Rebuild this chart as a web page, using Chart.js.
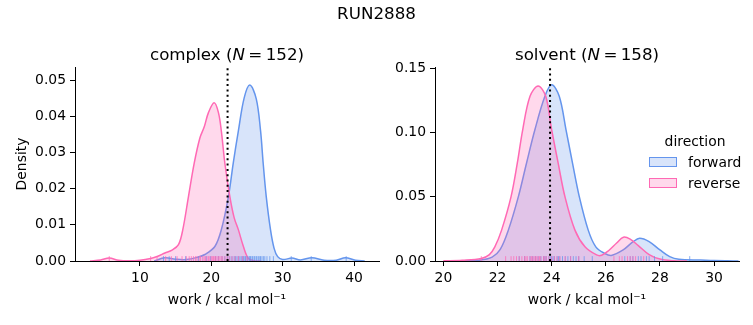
<!doctype html>
<html lang="en">
<head>
  <meta charset="utf-8">
  <title>RUN2888</title>
  <style>
    * {
      margin: 0;
      padding: 0;
      font-family: "DejaVu Sans", sans-serif;
    }

    body {
      width: 753px;
      height: 325px;
      background: #fff;
      position: relative;
      overflow: hidden;
    }

    canvas {
      position: absolute;
      left: 0;
      top: 0;
    }

    .txt {
      position: absolute;
      color: #000;
      white-space: nowrap;
      line-height: 20px;
      height: 20px;
    }

    .center { text-align: center; }
    .sup { left: 0; width: 753px; top: 3px; font-size: 16.7px; }
    .sub { width: 300px; top: 44px; font-size: 16.7px; }
    .leg { font-size: 13.9px; }

    .patch {
      position: absolute;
      width: 26px;
      height: 8px;
      border: 1px solid;
    }
  </style>
</head>
<body>
<canvas id="complexChart" width="753" height="325"></canvas>
<canvas id="solventChart" width="753" height="325"></canvas>

<div class="txt center sup">RUN2888</div>
<div class="txt center sub" style="left:77px">complex (<i>N</i>&#8201;=&#8201;152)</div>
<div class="txt center sub" style="left:437px">solvent (<i>N</i>&#8201;=&#8201;158)</div>

<div class="txt center leg" style="left:645px; width:100px; top:131px">direction</div>
<div class="patch" style="left:649px; top:157px; border-color:#6495ED; background:rgba(100,149,237,0.25)"></div>
<div class="txt leg" style="left:688px; top:152px">forward</div>
<div class="patch" style="left:649px; top:178px; border-color:#FF69B4; background:rgba(255,105,180,0.25)"></div>
<div class="txt leg" style="left:688px; top:173px">reverse</div>

<script src="https://cdn.jsdelivr.net/npm/chart.js"></script>
<script>
  // kde curves: [work, density]
  const complexForward = [[12, 0], [13.5, 0.0009], [15, 0.0005], [16.5, 0.0004], [18, 0.001], [19.1, 0.0018],
    [20.5, 0.004], [21.4, 0.0086], [22.4, 0.0178], [23.07, 0.027], [23.8, 0.036], [24.6, 0.045], [25.4, 0.0486],
    [26.3, 0.0448], [26.9, 0.036], [27.27, 0.027], [27.7, 0.0178], [28.3, 0.0086], [28.8, 0.0035],
    [29.3, 0.0012], [30.0, 0.0004], [31.3, 0.0008], [32.5, 0.0003], [34.1, 0.0009], [35.8, 0.0002],
    [37.5, 0.0002], [38.8, 0.0009], [40.2, 0.0002], [41.5, 0]];
  const complexReverse = [[3, 0], [4.5, 0.0003], [5.7, 0.0008], [7, 0.0002], [8.5, 0.00005], [10, 0.0002],
    [11.5, 0.0007], [12.5, 0.0013], [13.5, 0.0022], [14.5, 0.003], [15.4, 0.0045], [16.0, 0.0086], [16.8, 0.0178],
    [17.6, 0.027], [18.4, 0.034], [19.0, 0.037], [19.6, 0.041], [20.4, 0.0437], [21.0, 0.041], [21.4, 0.036],
    [21.9, 0.027], [22.6, 0.0178], [23.2, 0.012], [23.8, 0.0086], [24.5, 0.004], [25.2, 0.0007], [26, 0.0001], [27, 0]];
  const solventForward = [[20.5, 0], [21.3, 0.0005], [21.8, 0.003], [22.1, 0.009], [22.4, 0.024], [22.77, 0.05],
    [23.07, 0.076], [23.38, 0.102], [23.75, 0.128], [24.0, 0.137], [24.28, 0.128], [24.53, 0.102], [24.77, 0.076],
    [25.02, 0.05], [25.35, 0.024], [25.63, 0.011], [25.95, 0.006], [26.2, 0.0043], [26.64, 0.0086], [27.0, 0.0148],
    [27.25, 0.0176], [27.6, 0.015], [28.0, 0.0086], [28.36, 0.0034], [28.7, 0.0013], [29.5, 0.0007], [30, 0.0003],
    [30.5, 0.0001], [30.9, 0]];
  const solventReverse = [[20.0, 0.0001], [20.7, 0.0006], [21.4, 0.002], [21.7, 0.005], [21.9, 0.011], [22.15, 0.024],
    [22.5, 0.05], [22.73, 0.076], [22.93, 0.102], [23.2, 0.128], [23.5, 0.136], [23.78, 0.128], [24.0, 0.102],
    [24.24, 0.076], [24.49, 0.05], [24.86, 0.024], [25.23, 0.011], [25.66, 0.0047], [25.85, 0.0045], [26.1, 0.008],
    [26.4, 0.014], [26.65, 0.0185], [26.9, 0.017], [27.2, 0.012], [27.6, 0.005], [28, 0.0015], [28.5, 0.0002], [29, 0]];

  // rug (individual work values)
  const complexRugForward = [13.3, 14.1, 15.0, 16.4, 18.2, 19.3, 19.9, 20.6, 21.0, 21.5, 21.9, 22.3, 22.6, 22.9,
    23.2, 23.4, 23.6, 23.8, 24.0, 24.2, 24.4, 24.5, 24.7, 24.8, 25.0, 25.1, 25.3, 25.4, 25.5, 25.7, 25.8, 26.0, 26.1,
    26.3, 26.4, 26.6, 26.8, 26.9, 27.1, 27.3, 27.5, 27.8, 28.2, 28.7, 31.2, 34.0, 38.9];
  const complexRugReverse = [5.7, 11.5, 12.4, 13.6, 14.4, 15.2, 15.9, 16.5, 16.9, 17.2, 17.5, 17.8, 18.0, 18.3, 18.5,
    18.8, 19.0, 19.2, 19.4, 19.6, 19.8, 20.0, 20.2, 20.3, 20.5, 20.6, 20.8, 21.0, 21.2, 21.4, 21.6, 21.9, 22.2, 22.5,
    22.9, 23.3, 23.8, 24.4, 25.0];
  const solventRugForward = [22.8, 23.0, 23.2, 23.3, 23.4, 23.5, 23.6, 23.7, 23.75, 23.8, 23.9, 23.95, 24.0, 24.05,
    24.1, 24.2, 24.25, 24.3, 24.4, 24.5, 24.6, 24.7, 24.8, 24.9, 25.0, 25.2, 25.5, 26.7, 26.9, 27.0, 27.2, 27.3, 27.5,
    27.6, 27.8, 28.1, 29.1];
  const solventRugReverse = [21.4, 22.3, 22.5, 22.6, 22.7, 22.8, 22.9, 23.0, 23.05, 23.1, 23.2, 23.25, 23.3, 23.35,
    23.4, 23.45, 23.5, 23.55, 23.6, 23.7, 23.75, 23.8, 23.9, 24.0, 24.1, 24.2, 24.3, 24.5, 24.7, 25.0, 26.3, 26.5,
    26.6, 26.8, 26.9, 27.0, 27.1, 27.4];

  // dotted reference line
  const complexMarker = 22.28;
  const solventMarker = 23.94;

  // tick labels
  const complexTicksX = [10, 20, 30, 40];
  const complexTicksY = [0, 0.01, 0.02, 0.03, 0.04, 0.05];
  const solventTicksX = [20, 22, 24, 26, 28, 30];
  const solventTicksY = [0, 0.05, 0.10, 0.15];

  Chart.defaults.font.family = '"DejaVu Sans", sans-serif';
  Chart.defaults.font.size = 13.9;
  Chart.defaults.color = '#000';

  const BLUE = '#6495ED';
  const PINK = '#FF69B4';

  function buildChart(id, o) {
    const toXY = arr => arr.map(p => ({x: p[0], y: p[1]}));

    // rug ticks + dotted vertical line, drawn on top of the kde fills
    const rugLine = {
      id: 'rugLine',
      afterDatasetsDraw(chart) {
        const {ctx, chartArea: a, scales} = chart;
        const h = (a.bottom - a.top) * 0.025;
        ctx.save();
        ctx.beginPath();
        ctx.rect(a.left, a.top, a.right - a.left, a.bottom - a.top);
        ctx.clip();
        ctx.lineWidth = 1;
        [[o.rugFwd, 'rgba(100,149,237,0.75)'], [o.rugRev, 'rgba(255,105,180,0.75)']].forEach(([vals, col]) => {
          ctx.strokeStyle = col;
          vals.forEach(v => {
            const px = scales.x.getPixelForValue(v);
            ctx.beginPath();
            ctx.moveTo(px, a.bottom);
            ctx.lineTo(px, a.bottom - h);
            ctx.stroke();
          });
        });
        const mx = scales.x.getPixelForValue(o.marker);
        ctx.strokeStyle = '#000';
        ctx.lineWidth = 2;
        ctx.setLineDash([2, 3.3]);
        ctx.beginPath();
        ctx.moveTo(mx, a.bottom);
        ctx.lineTo(mx, a.top);
        ctx.stroke();
        ctx.restore();
      }
    };

    const series = (label, pts, col, fillCol) => ({
      label,
      data: toXY(pts),
      borderColor: col,
      backgroundColor: fillCol,
      borderWidth: 1.5,
      pointRadius: 0,
      fill: 'origin',
      tension: 0.35
    });

    return new Chart(document.getElementById(id), {
      type: 'line',
      data: {
        datasets: [
          series('reverse', o.rev, PINK, 'rgba(255,105,180,0.25)'),
          series('forward', o.fwd, BLUE, 'rgba(100,149,237,0.25)')
        ]
      },
      options: {
        responsive: false,
        animation: false,
        events: [],
        layout: {padding: {left: o.padLeft, right: o.padRight, top: 67, bottom: 0}},
        plugins: {legend: {display: false}, tooltip: {enabled: false}},
        scales: {
          x: {
            type: 'linear',
            min: o.xMin,
            max: o.xMax,
            afterBuildTicks: s => { s.ticks = o.xTicks.map(v => ({value: v})); },
            afterFit: s => { s.height = 64; },
            grid: {drawOnChartArea: false, drawTicks: true, tickLength: 5, color: '#000'},
            border: {display: true, color: '#000', width: 1},
            ticks: {padding: 4, maxRotation: 0, autoSkip: false, callback: v => String(v)},
            title: {display: true, text: 'work / kcal mol\u207B\u00B9', padding: {top: 0, bottom: 16.7}}
          },
          y: {
            type: 'linear',
            min: 0,
            max: o.yMax,
            afterBuildTicks: s => { s.ticks = o.yTicks.map(v => ({value: v})); },
            afterFit: s => { s.width = o.yWidth; },
            grid: {drawOnChartArea: false, drawTicks: true, tickLength: 5, color: '#000'},
            border: {display: true, color: '#000', width: 1},
            ticks: {padding: 4, autoSkip: false, callback: v => v.toFixed(2)},
            title: {display: o.yTitle, text: 'Density', padding: {top: 14, bottom: 0}}
          }
        }
      },
      plugins: [rugLine]
    });
  }

  buildChart('complexChart', {
    fwd: complexForward, rev: complexReverse,
    rugFwd: complexRugForward, rugRev: complexRugReverse,
    marker: complexMarker,
    xTicks: complexTicksX, yTicks: complexTicksY,
    xMin: 0.9, xMax: 43.5, yMax: 0.0536,
    padLeft: 0, padRight: 374, yWidth: 75, yTitle: true
  });

  buildChart('solventChart', {
    fwd: solventForward, rev: solventReverse,
    rugFwd: solventRugForward, rugRev: solventRugReverse,
    marker: solventMarker,
    xTicks: solventTicksX, yTicks: solventTicksY,
    xMin: 19.69, xMax: 30.92, yMax: 0.1508,
    padLeft: 380, padRight: 14, yWidth: 55, yTitle: false
  });
</script>
</body>
</html>
